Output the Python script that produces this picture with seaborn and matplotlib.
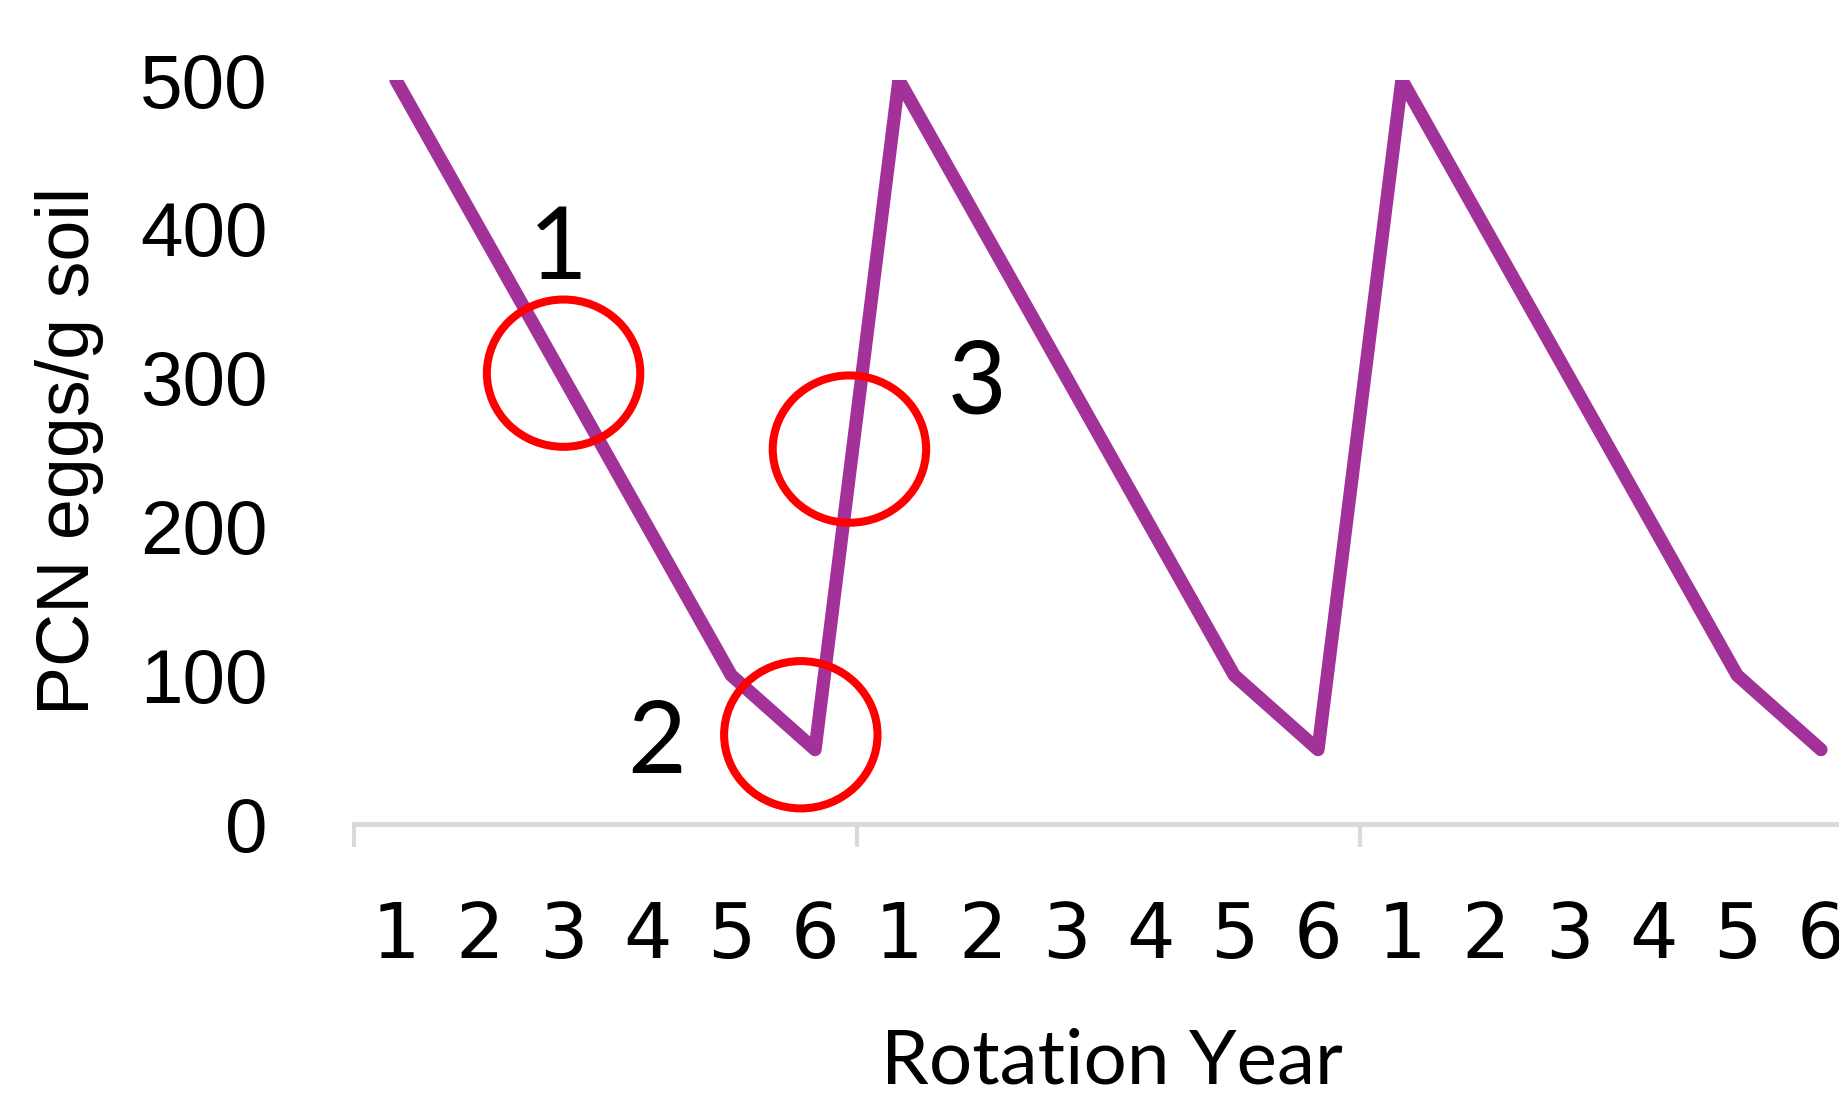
#!/usr/bin/env python3
"""PCN egg density over three six-year rotations."""

import matplotlib

matplotlib.use("Agg")
import matplotlib.pyplot as plt
from matplotlib.patches import Ellipse
import numpy as np
import pandas as pd
import seaborn as sns

# data
ROTATION_YEAR = [1, 2, 3, 4, 5, 6] * 3
EGGS = [500, 400, 300, 200, 100, 50] * 3
Y_TICKS = [0, 100, 200, 300, 400, 500]

# marked stages: label, label position, circle centre (x in rotation index, y in eggs/g)
MARK_LABELS = ["1", "2", "3"]
MARK_TEXT_X = [2.93, 4.11, 7.93]
MARK_TEXT_Y = [366, 34, 276]
CIRCLE_X = [3.0, 5.83, 6.41]
CIRCLE_Y = [303, 60, 252]

LINE_COLOR = "#A2319A"
AXIS_COLOR = "#D9D9D9"


def main() -> None:
    sns.set_theme(style="white")
    plt.rcParams["font.family"] = ["Liberation Sans", "DejaVu Sans"]
    plt.rcParams["text.color"] = "black"

    frame = pd.DataFrame({"step": np.arange(1, len(EGGS) + 1), "eggs": EGGS})

    fig = plt.figure(figsize=(18.39, 10.98), dpi=100)
    # axes run past the right edge, like the cropped original
    ax = fig.add_axes([0.1925, 0.2495, 0.8205, 0.6776])

    sns.lineplot(
        data=frame, x="step", y="eggs", color=LINE_COLOR, linewidth=9.5,
        solid_capstyle="round", solid_joinstyle="round", ax=ax,
    )
    ax.set_xlim(0.5, len(EGGS) + 0.5)
    ax.set_ylim(0, 500)

    for x, y in zip(CIRCLE_X, CIRCLE_Y):
        ax.add_patch(Ellipse((x, y), 1.83, 99, fill=False, edgecolor="#FF0000",
                             linewidth=5.8, zorder=4))
    for label, x, y in zip(MARK_LABELS, MARK_TEXT_X, MARK_TEXT_Y):
        ax.text(x, y, label, ha="center", va="baseline", fontsize=73,
                family="Lato", color="black", zorder=5)

    # category axis: inner year labels, group separators as minor ticks
    ax.set_xticks(frame["step"])
    ax.set_xticklabels([str(v) for v in ROTATION_YEAR], family="DejaVu Sans", fontsize=55)
    ax.set_xticks(np.arange(0.5, len(EGGS) + 1, 6), minor=True)
    ax.tick_params(axis="x", which="major", length=0, pad=55, colors="black")
    ax.tick_params(axis="x", which="minor", bottom=True, length=16.5, width=3,
                   color=AXIS_COLOR, direction="out")

    ax.set_yticks(Y_TICKS)
    ax.set_yticklabels([str(v) for v in Y_TICKS], fontsize=55)
    ax.tick_params(axis="y", length=0, pad=62, colors="black")

    ax.set_xlabel("")
    ax.set_ylabel("")
    for side in ["top", "right", "left"]:
        ax.spines[side].set_visible(False)
    ax.spines["bottom"].set_color(AXIS_COLOR)
    ax.spines["bottom"].set_linewidth(3.5)
    ax.grid(False)

    fig.text(70 / 1839, 1 - 451 / 1098, "PCN eggs/g soil", rotation=90,
             ha="center", va="center", fontsize=53, color="black")
    fig.text(1112 / 1839, 1 - 1083 / 1098, "Rotation Year", ha="center",
             va="baseline", fontsize=55, family="Lato", color="black")

    fig.savefig("out.png", dpi=100, facecolor="white")
    plt.close(fig)


if __name__ == "__main__":
    main()
